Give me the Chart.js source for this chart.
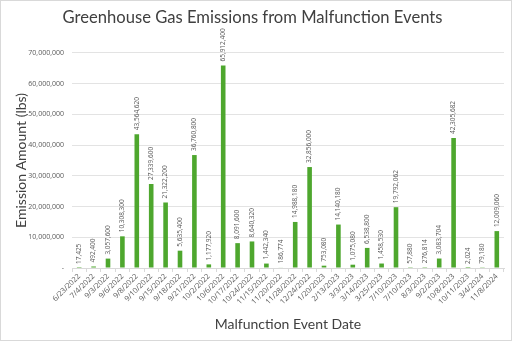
<!DOCTYPE html>
<html>
<head>
<meta charset="utf-8">
<script src="https://cdn.jsdelivr.net/npm/chart.js@4"></script>
<style>
  html, body { margin: 0; padding: 0; background: #fff; }
  #wrap { width: 510px; height: 339px; border: 1px solid #d9d9d9; }
</style>
</head>
<body>
<div id="wrap"><canvas id="emissionChart" width="510" height="339"></canvas></div>
<script>
// --- data ---
const eventDates = [
  "6/23/2022", "7/4/2022", "9/3/2022", "9/6/2022", "9/8/2022", "9/10/2022",
  "9/15/2022", "9/18/2022", "9/21/2022", "10/2/2022", "10/6/2022", "10/17/2022",
  "10/24/2022", "11/15/2022", "11/20/2022", "11/28/2022", "12/24/2022", "1/20/2023",
  "2/13/2023", "3/3/2023", "3/14/2023", "3/25/2023", "7/10/2023", "7/10/2023",
  "8/3/2023", "9/2/2023", "10/8/2023", "10/11/2023", "3/4/2024", "11/8/2024"
];
const emissionLbs = [
  17425, 492400, 3057600, 10308300, 43564620, 27339600,
  21322200, 5635400, 36760800, 1177920, 65912400, 8091600,
  8640320, 1442340, 186774, 14988180, 32856000, 753080,
  14140180, 1075080, 6538800, 1458530, 19792062, 57880,
  276814, 3083704, 42305682, 2024, 79180, 12009060
];
const yTicks = [0, 10000000, 20000000, 30000000, 40000000, 50000000, 60000000, 70000000];

const smallFont = "'Open Sans', 'Liberation Sans', sans-serif";
const titleFont = "Lato, 'Open Sans', sans-serif";
const fmt = v => v === 0 ? "-" : v.toLocaleString("en-US");

// value labels on top of each bar, rotated
const barLabels = {
  id: "barLabels",
  afterDatasetsDraw(chart) {
    const ctx = chart.ctx;
    const meta = chart.getDatasetMeta(0);
    ctx.save();
    ctx.font = "6.5px " + smallFont;
    ctx.fillStyle = "#595959";
    ctx.textAlign = "left";
    ctx.textBaseline = "middle";
    meta.data.forEach((bar, i) => {
      ctx.save();
      ctx.translate(bar.x, bar.y - 4);
      ctx.rotate(-Math.PI / 2);
      ctx.fillText(fmt(emissionLbs[i]), 0, 0);
      ctx.restore();
    });
    ctx.restore();
  }
};

new Chart(document.getElementById("emissionChart"), {
  type: "bar",
  data: {
    labels: eventDates,
    datasets: [{
      data: emissionLbs,
      backgroundColor: "#4ea72e",
      barPercentage: 0.32,
      categoryPercentage: 1
    }]
  },
  options: {
    responsive: false,
    animation: false,
    layout: { padding: { left: 0, right: 7, top: 0, bottom: 0 } },
    plugins: {
      legend: { display: false },
      tooltip: { enabled: false },
      title: {
        display: true,
        text: "Greenhouse Gas Emissions from Malfunction Events",
        color: "#404040",
        font: { family: titleFont, size: 16.6, weight: "normal" },
        padding: { top: 7, bottom: 25 }
      }
    },
    scales: {
      y: {
        min: 0,
        max: 70000000,
        afterBuildTicks: s => { s.ticks = yTicks.map(v => ({ value: v })); },
        afterFit: s => { s.width = 71; },
        border: { display: false },
        grid: { color: "#e3e3e3", drawTicks: false },
        ticks: {
          padding: 8,
          color: "#595959",
          font: { family: smallFont, size: 7 },
          callback: v => fmt(v)
        },
        title: {
          display: true,
          text: "Emission Amount (lbs)",
          color: "#404040",
          font: { family: titleFont, size: 14, weight: "normal" },
          padding: { top: 12, bottom: 0 }
        }
      },
      x: {
        afterFit: s => { s.height = 72; },
        border: { color: "#d9d9d9" },
        grid: { offset: true, drawOnChartArea: false, tickLength: 4, color: "#d9d9d9" },
        ticks: {
          minRotation: 45,
          maxRotation: 45,
          autoSkip: false,
          padding: 0,
          color: "#595959",
          font: { family: smallFont, size: 7.5 }
        },
        title: {
          display: true,
          text: "Malfunction Event Date",
          color: "#404040",
          font: { family: titleFont, size: 14, weight: "normal" },
          padding: { top: 2, bottom: 7 }
        }
      }
    }
  },
  plugins: [barLabels]
});
</script>
</body>
</html>
